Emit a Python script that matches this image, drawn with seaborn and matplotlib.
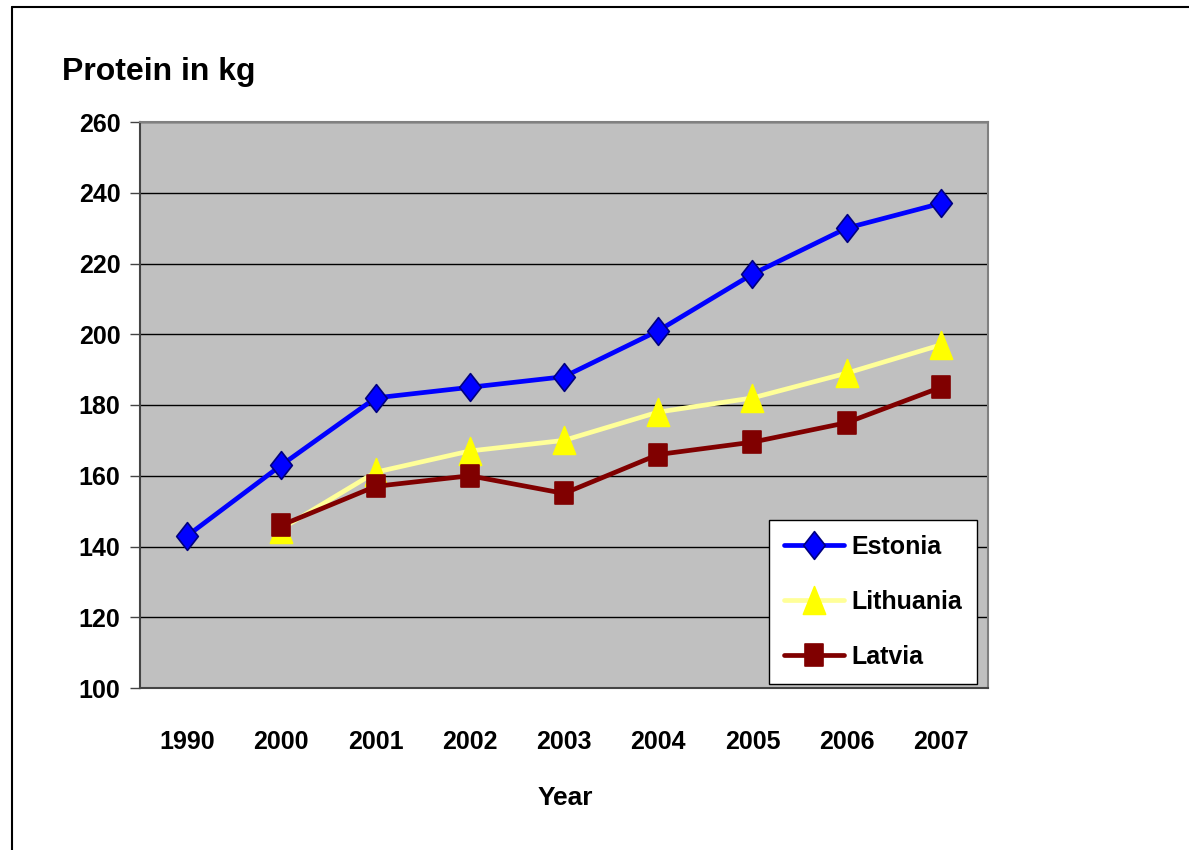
import numpy as np
import pandas as pd
import matplotlib
matplotlib.use("Agg")
import matplotlib.pyplot as plt
from matplotlib.lines import Line2D
from matplotlib.path import Path
import seaborn as sns

years = ["1990", "2000", "2001", "2002", "2003", "2004", "2005", "2006", "2007"]
estonia = [143, 163, 182, 185, 188, 201, 217, 230, 237]
lithuania = [np.nan, 145, 161, 167, 170, 178, 182, 189, 197]
latvia = [np.nan, 146, 157, 160, 155, 166, 169.5, 175, 185]
series_names = ["Estonia", "Lithuania", "Latvia"]
y_ticks = [100, 120, 140, 160, 180, 200, 220, 240, 260]

sns.set_theme(style="white")
plt.rcParams['font.family'] = ['Liberation Sans', 'DejaVu Sans']
plt.rcParams['font.weight'] = 'bold'
plt.rcParams['text.color'] = 'black'
plt.rcParams['xtick.color'] = 'black'
plt.rcParams['ytick.color'] = 'black'

df = pd.DataFrame({"Year": years, "Estonia": estonia, "Lithuania": lithuania, "Latvia": latvia})
long = df.melt(id_vars="Year", var_name="Country", value_name="Protein")

fig = plt.figure(figsize=(11.89, 8.5), dpi=100)
ax = fig.add_axes([140/1189, (850-688)/850, 848/1189, 566/850])
ax.set_facecolor("#c0c0c0")

diamond = Path([(0, 1), (0.78, 0), (0, -1), (-0.78, 0), (0, 1)],
               [Path.MOVETO, Path.LINETO, Path.LINETO, Path.LINETO, Path.CLOSEPOLY])
tri = Path([(-0.8, -1), (0.8, -1), (0, 1), (-0.8, -1)],
           [Path.MOVETO, Path.LINETO, Path.LINETO, Path.CLOSEPOLY])
sq = Path([(-0.85, -1), (0.85, -1), (0.85, 1), (-0.85, 1), (-0.85, -1)],
          [Path.MOVETO, Path.LINETO, Path.LINETO, Path.LINETO, Path.CLOSEPOLY])

styles = {
    "Estonia": dict(color="#0000ff", marker=diamond, mfc="#0000ff", mec="#000080", ms=20),
    "Lithuania": dict(color="#ffff99", marker=tri, mfc="#ffff00", mec="#ffff00", ms=20),
    "Latvia": dict(color="#800000", marker=sq, mfc="#800000", mec="#800000", ms=16),
}

for name in series_names:
    st = styles[name]
    sub = long[long["Country"] == name]
    sns.lineplot(data=sub, x="Year", y="Protein", ax=ax, color=st["color"], lw=3.4,
                 marker=st["marker"], markersize=st["ms"], markerfacecolor=st["mfc"],
                 markeredgecolor=st["mec"], markeredgewidth=1.2, label=name,
                 sort=False, zorder=3)

ax.set_xlim(-0.5, len(years) - 0.5)
ax.set_ylim(100, 260)
ax.set_yticks(y_ticks)
ax.yaxis.grid(True, color="black", lw=1)
ax.set_axisbelow(True)
ax.set_xticks(range(len(years)))
ax.set_xticklabels(years)
ax.set_xticks(np.arange(-0.5, len(years), 1.0), minor=True)
ax.tick_params(axis="x", which="major", length=0, pad=30, labelsize=18)
ax.tick_params(axis="x", which="minor", length=9, width=1, color="#444444", direction="out")
ax.tick_params(axis="y", which="major", length=7, width=1, color="#444444", direction="out",
               left=True, labelsize=18, pad=7)
for lab in ax.get_xticklabels() + ax.get_yticklabels():
    lab.set_fontweight("bold")
for s in ax.spines.values():
    s.set_color("#808080")
    s.set_linewidth(1.5)
ax.spines["left"].set_color("#444444")
ax.spines["bottom"].set_color("#444444")
ax.set_xlabel("")
ax.set_ylabel("")

leg = ax.legend(loc="lower right", bbox_to_anchor=(0.987, 0.007),
                frameon=True, fancybox=False, framealpha=1, edgecolor="black",
                prop={"size": 18, "weight": "bold"}, handlelength=2.4, handletextpad=0.3,
                labelspacing=1.25, borderpad=0.6, borderaxespad=0)
leg.get_frame().set_linewidth(1.0)

fig.text(62/1189, 1 - 72/850, "Protein in kg", fontsize=23, fontweight="bold", ha="left", va="center")
fig.text(565/1189, 1 - 798/850, "Year", fontsize=19, fontweight="bold", ha="center", va="center")

fig.add_artist(Line2D([12/1189, 12/1189], [0, 1 - 7/850], color="black", lw=1.5, transform=fig.transFigure))
fig.add_artist(Line2D([12/1189, 1], [1 - 7/850, 1 - 7/850], color="black", lw=1.5, transform=fig.transFigure))

fig.savefig("out.png", dpi=100)
